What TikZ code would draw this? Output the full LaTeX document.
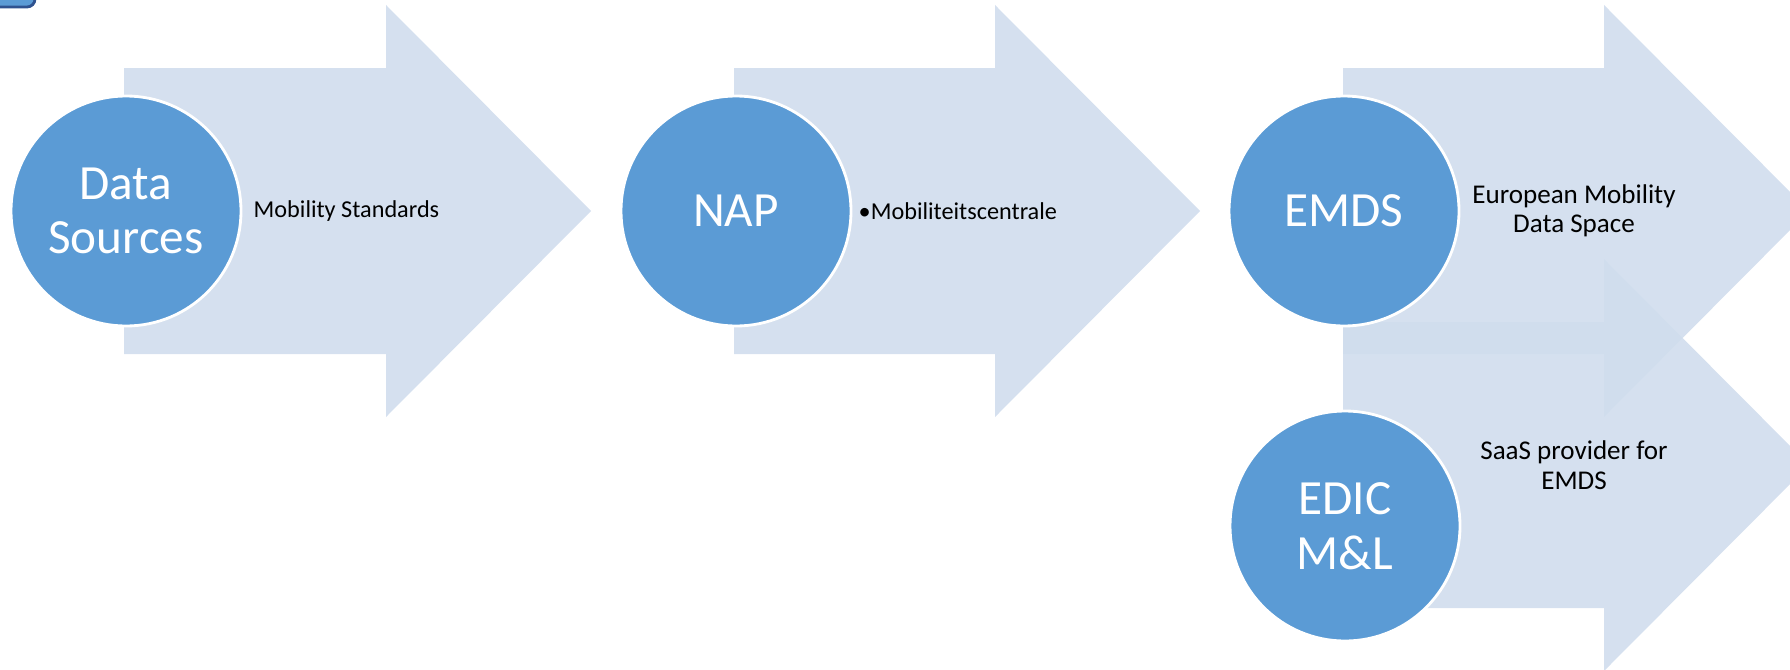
\documentclass[tikz,border=0pt]{standalone}
\usepackage{fontspec}
\setmainfont{Carlito}
\usetikzlibrary{positioning}

\definecolor{circblue}{HTML}{5B9BD5}
\definecolor{arrowblue}{RGB}{208,221,237}
\definecolor{frameblue}{HTML}{2F528F}

\tikzset{
  stage/.style={circle, fill=circblue, draw=white, line width=0.8pt,
    minimum size=2.3cm, inner sep=0pt, text=white, align=center,
    font=\fontsize{14}{15.5}\selectfont},
  note/.style={inner sep=0pt, align=center, font=\fontsize{6.9}{8.2}\selectfont},
  bignote/.style={note, font=\fontsize{7.7}{8.4}\selectfont},
  chevron/.style={fill=arrowblue, fill opacity=0.9}
}

\begin{document}
\begin{tikzpicture}
    \clip (0,0) rectangle (17.9,6.69);
    % corner piece
    \draw[frameblue, fill=circblue, line width=0.8pt, rounded corners=0.08cm] (-1,6.62) rectangle (0.35,7.3);

    % big arrows: left / head base / centre
    \foreach \l/\b/\c in {1.24/3.86/4.58, 7.34/9.95/4.58, 13.43/16.04/4.58, 13.43/16.04/2.04}
        \fill[chevron] (\l,\c+1.43) -- (\b,\c+1.43) -- (\b,\c+2.06) -- (\b+2.05,\c)
            -- (\b,\c-2.06) -- (\b,\c-1.43) -- (\l,\c-1.43) -- cycle;

    \node[stage] (sources) at (1.26,4.58) {Data\\Sources};
    \node[stage] (nap) at (7.36,4.58) {NAP};
    \node[stage] (emds) at (13.44,4.58) {EMDS};
    \node[stage] (edic) at (13.45,1.43) {EDIC\\M\&L};

    \node[note, anchor=west] (stdtxt) at (2.53,4.58) {Mobility Standards};
    \node[note, anchor=west] (naptxt) at (8.58,4.58) {\textbullet Mobiliteitscentrale};
    \node[bignote] (emdstxt) at (15.74,4.58) {European Mobility\\Data Space};
    \node[bignote] (edictxt) at (15.74,2.04) {SaaS provider for\\EMDS};
\end{tikzpicture}
\end{document}
